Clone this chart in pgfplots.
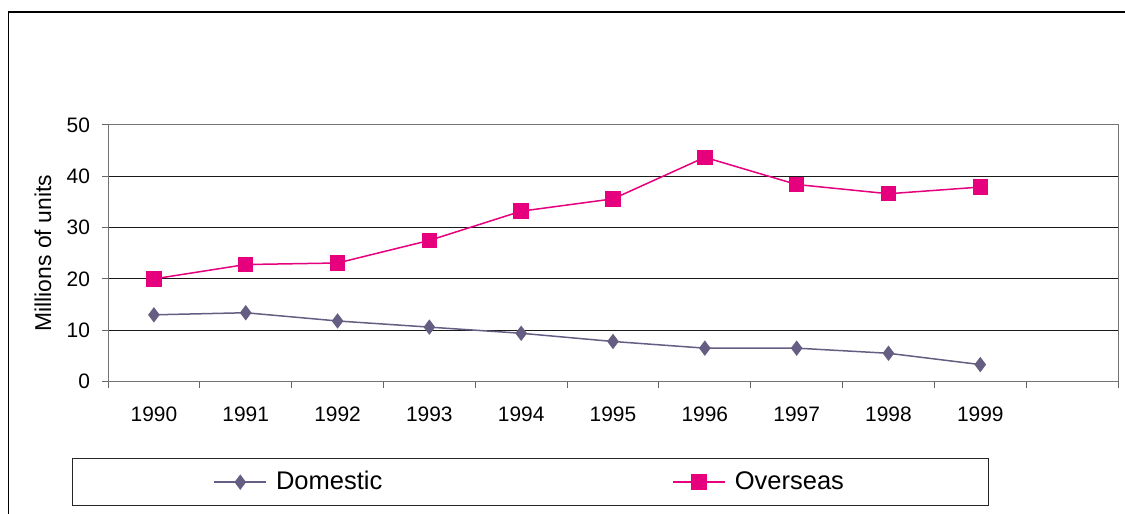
\documentclass[border=0pt]{standalone}
\usepackage{fontspec}
\setmainfont{Liberation Sans}
\usepackage{pgfplots}
\pgfplotsset{compat=1.18}
\definecolor{domestic}{RGB}{102,93,130}
\definecolor{overseas}{RGB}{230,0,126}

\begin{document}
\begin{tikzpicture}
\useasboundingbox (0,0) rectangle (562.5bp,257bp);
\clip (0,0) rectangle (562.5bp,257bp);
% outer chart frame
\draw[black, line width=0.7bp] (4.25bp,-10bp) -- (4.25bp,251bp) -- (575bp,251bp);
\begin{axis}[
  at={(54bp,66.25bp)}, anchor=south west,
  scale only axis, width=505bp, height=128.25bp,
  xmin=-0.5, xmax=10.5, ymin=0, ymax=50,
  xtick={-0.5,0.5,1.5,2.5,3.5,4.5,5.5,6.5,7.5,8.5,9.5,10.5},
  x tick label as interval,
  xticklabels={1990,1991,1992,1993,1994,1995,1996,1997,1998,1999,{}},
  ytick={0,10,20,30,40,50},
  tick pos=left,
  ymajorgrids,
  grid style={black!90, line width=0.5bp},
  tick align=outside, major tick length=3bp,
  tick style={black!60, line width=0.5bp},
  axis line style={black!55, line width=0.5bp},
  ticklabel style={font=\fontsize{10.5}{12}\selectfont, text=black},
  xticklabel style={yshift=-6bp},
  yticklabel style={xshift=-2.5bp},
  /pgf/number format/assume math mode=true,
  ylabel={Millions of units},
  ylabel style={font=\fontsize{11.5}{13}\selectfont, at={(axis description cs:-0.0644,0.5)}, anchor=center},
  legend columns=2,
  legend style={at={(-0.0356,-0.298)}, anchor=north west, draw=black!85, line width=0.5bp,
    inner xsep=70.5bp, inner ysep=4.5bp, font=\fontsize{12.8}{15}\selectfont,
    nodes={inner sep=2bp},
    /tikz/every odd column/.append style={column sep=2.5bp},
    /tikz/every even column/.append style={column sep=143bp}},
  legend image code/.code={\draw[mark repeat=2, mark phase=2, #1] plot coordinates {(0bp,0bp) (13bp,0bp) (26bp,0bp)};},
]
\addplot[domestic, line width=0.75bp, mark=diamond*, mark size=3.25bp, mark options={fill=domestic}]
  coordinates {(0,13.0) (1,13.4) (2,11.8) (3,10.6) (4,9.4) (5,7.8) (6,6.5) (7,6.5) (8,5.5) (9,3.3)};
\addlegendentry{Domestic}
\addplot[overseas, line width=0.75bp, mark=square*, mark size=3.5bp, mark options={fill=overseas}]
  coordinates {(0,20.0) (1,22.8) (2,23.1) (3,27.5) (4,33.2) (5,35.6) (6,43.7) (7,38.4) (8,36.6) (9,37.9)};
\addlegendentry{Overseas}
\end{axis}
\end{tikzpicture}
\end{document}
